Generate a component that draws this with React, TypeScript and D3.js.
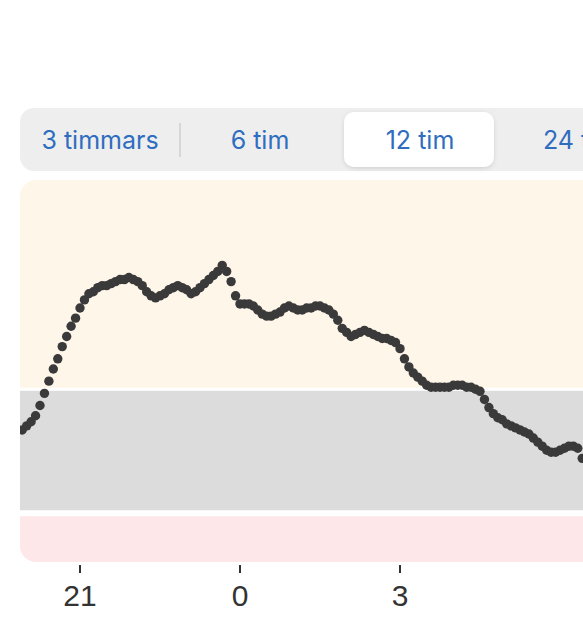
import * as React from "react";
import { scaleTime, scaleLinear, scaleBand, timeMinute } from "d3";

// glucose readings, mmol/L, every 5 minutes from 19:55
const startTime = new Date(2024, 0, 1, 19, 55);
const glucose = [
  8.0, 8.2, 8.4, 8.7, 9.2, 9.8, 10.4, 11.0, 11.5, 12.1, 12.6, 13.1, 13.5, 14.0, 14.4, 14.7,
  14.8, 15.0, 15.1, 15.1, 15.2, 15.3, 15.4, 15.4, 15.5, 15.4, 15.3, 15.1, 14.8, 14.6, 14.5, 14.6,
  14.7, 14.9, 15.0, 15.1, 15.0, 14.9, 14.7, 14.8, 15.0, 15.2, 15.4, 15.6, 15.8, 16.1, 15.8, 15.3,
  14.6, 14.2, 14.2, 14.2, 14.1, 13.9, 13.7, 13.6, 13.6, 13.7, 13.8, 14.0, 14.1, 14.0, 13.9, 13.9,
  14.0, 14.0, 14.1, 14.1, 14.0, 13.9, 13.7, 13.4, 13.0, 12.8, 12.6, 12.7, 12.8, 12.9, 12.8, 12.7,
  12.6, 12.5, 12.5, 12.4, 12.3, 12.0, 11.5, 11.1, 10.8, 10.6, 10.4, 10.2, 10.1, 10.1, 10.1, 10.1,
  10.1, 10.2, 10.2, 10.2, 10.1, 10.1, 10.0, 9.9, 9.5, 9.1, 8.8, 8.6, 8.5, 8.3, 8.2, 8.1,
  8.0, 7.9, 7.8, 7.6, 7.4, 7.2, 7.0, 6.9, 6.9, 7.0, 7.1, 7.2, 7.2, 7.1, 6.6,
];

const lowLimit = 3.9;
const highLimit = 10;
const yMin = 1.5;
const yMax = 20.3;

const tickHours = [21, 0, 3];
const rangeLabels = ["3 timmars", "6 tim", "12 tim", "24 tim"];
const selectedRange = 2;

const W = 583;
const H = 631;
const chartTop = 180;
const chartBottom = 562;
const chartLeft = 20;

export default function App() {
  const x = scaleTime()
    .domain([new Date(2024, 0, 1, 19, 52, 30), new Date(2024, 0, 2, 7, 52, 30)])
    .range([chartLeft, chartLeft + 640]);
  const y = scaleLinear().domain([yMin, yMax]).range([chartBottom, chartTop]);
  const seg = scaleBand<string>().domain(rangeLabels).range([20, 660]);

  const points = glucose.map((v, i) => ({ t: timeMinute.offset(startTime, i * 5), v }));
  const tickDates = tickHours.map(
    (h) => new Date(2024, 0, h < 12 ? 2 : 1, h, 0)
  );

  const blue = "#2f6dbf";

  return (
    <div style={{ position: "absolute", left: 0, top: 0 }}>
      <svg width={W} height={H} style={{ display: "block", background: "#fff" }}>
        <defs>
          <clipPath id="plot">
            <rect x={chartLeft} y={chartTop} width={700} height={chartBottom - chartTop} rx={16} />
          </clipPath>
          <filter id="pillShadow" x="-20%" y="-30%" width="140%" height="160%">
            <feDropShadow dx="0" dy="1.5" stdDeviation="2" floodColor="#000" floodOpacity="0.12" />
          </filter>
        </defs>

        {/* range selector */}
        <rect x={20} y={108} width={700} height={63} rx={14} fill="#eeeeef" />
        <line x1={seg("6 tim")} x2={seg("6 tim")} y1={123} y2={157} stroke="#cfcfd1" strokeWidth={1.5} />
        <rect
          x={(seg(rangeLabels[selectedRange]) ?? 0) + 4}
          y={112}
          width={seg.bandwidth() - 10}
          height={55}
          rx={10}
          fill="#fff"
          filter="url(#pillShadow)"
        />
        {rangeLabels.map((l) => (
          <text
            key={l}
            x={(seg(l) ?? 0) + seg.bandwidth() / 2}
            y={148.5}
            textAnchor="middle"
            fontFamily="Inter, 'Noto Sans', sans-serif"
            fontSize={25}
            fill={blue}
          >
            {l}
          </text>
        ))}

        {/* bands */}
        <g clipPath="url(#plot)">
          <rect x={chartLeft} y={y(yMax)} width={700} height={y(highLimit) - 1.5 - y(yMax)} fill="#fff6ea" />
          <rect x={chartLeft} y={y(highLimit) + 1.5} width={700} height={y(lowLimit) - 3 - (y(highLimit) + 1.5)} fill="#dcdcdc" />
          <rect x={chartLeft} y={y(lowLimit) + 3} width={700} height={y(yMin) - (y(lowLimit) + 3)} fill="#fde7e8" />
          {points.map((p, i) => (
            <circle key={i} cx={x(p.t)} cy={y(p.v)} r={4.7} fill="#3a3a3a" />
          ))}
        </g>

        {/* x axis */}
        {tickDates.map((d, i) => (
          <g key={i} transform={`translate(${x(d)},0)`}>
            <line y1={565} y2={573} stroke="#333" strokeWidth={2} />
            <text
              y={606}
              textAnchor="middle"
              fontFamily="'Liberation Sans', Arial, sans-serif"
              fontSize={30}
              fill="#333"
            >
              {tickHours[i]}
            </text>
          </g>
        ))}
      </svg>
    </div>
  );
}
